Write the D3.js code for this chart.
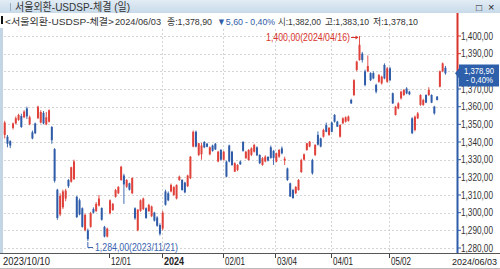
<!DOCTYPE html>
<html>
<head>
<meta charset="utf-8">
<script src="https://cdnjs.cloudflare.com/ajax/libs/d3/7.8.5/d3.min.js"></script>
<style>
    body { margin: 0; background: #fff; }
    svg { display: block; font-family: "Liberation Sans", "Noto Sans CJK KR", sans-serif; }
</style>
</head>
<body>
<div id="chart"></div>
<script>
// trading calendar (Seoul FX market)
var startDate = "2023-10-10", endDate = "2024-06-03";
var holidays = ["2023-12-25", "2023-12-29", "2024-01-01", "2024-02-09", "2024-02-12",
    "2024-03-01", "2024-04-10", "2024-05-01", "2024-05-06", "2024-05-15"];

// daily OHLC
var open = [
    1344, 1343, 1340.5, 1348, 1350.5, 1352.5, 1354.7, 1354, 1359, 1350,
    1345.5, 1350.5, 1353.5, 1351, 1356.5, 1350, 1351.5, 1348.5, 1336, 1313,
    1299, 1303, 1308, 1318.5, 1317.5, 1319, 1309, 1307, 1302.5, 1290,
    1290, 1292, 1302, 1300.8, 1304, 1302.6, 1292, 1286.5, 1299.7, 1301.5,
    1309, 1311, 1318.5, 1321, 1314.7, 1316.6, 1311, 1302.5, 1290, 1301,
    1302, 1302.5, 1300.8, 1298, 1300, 1297.3, 1293, 1291, 1312, 1311,
    1312, 1310, 1308, 1318.5, 1318.5, 1317, 1315, 1319.5, 1337.4, 1345.8,
    1332.7, 1333, 1340, 1339, 1333, 1338, 1339, 1329, 1335.5, 1330,
    1328.9, 1338, 1334.5, 1323.2, 1324.2, 1328.9, 1340, 1330.8, 1329.8, 1332.7,
    1334.5, 1337, 1332.7, 1327, 1329, 1331.5, 1337, 1335, 1328.9, 1331.7,
    1336.4, 1329.5, 1325, 1316.6, 1312.8, 1311, 1312.8, 1323, 1330, 1335.5,
    1337.4, 1329.8, 1332.7, 1344, 1342, 1343, 1349.6, 1344, 1351, 1355.3,
    1351.5, 1343, 1350.6, 1351.5, 1352, 1363.8, 1366.6, 1380.8, 1386.4, 1390,
    1380, 1380, 1379, 1379, 1372.3, 1374.1, 1373.2, 1383.6, 1374.1, 1381.7,
    1367.6, 1355.3, 1359, 1364.7, 1366.6, 1370.3, 1368.5, 1353.4, 1346.8, 1353.4,
    1361, 1361, 1366.6, 1366.6, 1366.6, 1360, 1365.7, 1371.3, 1380, 1382
];
var high = [
    1352, 1344, 1341, 1351, 1354.5, 1356, 1356, 1358, 1360, 1355,
    1346.5, 1351, 1360.5, 1358, 1357.5, 1357, 1358.5, 1349, 1336.5, 1313.5,
    1311, 1313, 1313.5, 1319, 1326, 1330, 1309.5, 1308, 1303, 1299.5,
    1291, 1300.5, 1303, 1306, 1310, 1303, 1292.5, 1291.5, 1307.5, 1305.5,
    1313.5, 1315, 1326.5, 1322, 1319, 1317, 1320, 1303, 1302, 1307.5,
    1308.5, 1303, 1305, 1304, 1300.5, 1298, 1294, 1301, 1313, 1312,
    1316.5, 1315, 1316, 1321, 1319, 1317.5, 1321.5, 1332, 1346.5, 1346.5,
    1339.5, 1339.5, 1340.5, 1339.5, 1337.5, 1338.5, 1339.5, 1335, 1336, 1335,
    1329.5, 1338.5, 1335, 1328.5, 1327.5, 1329.5, 1340.5, 1335, 1336, 1337,
    1339, 1337.5, 1333, 1331.5, 1332.5, 1332, 1338, 1335.5, 1334, 1336,
    1337.5, 1331.7, 1325.5, 1317, 1313.5, 1315, 1319, 1330.5, 1333.5, 1339.5,
    1340.5, 1330.5, 1338.8, 1346, 1342.5, 1347.5, 1351, 1348.5, 1351.5, 1355.8,
    1352, 1350, 1354, 1354.5, 1355, 1364.5, 1375.5, 1386, 1400, 1391,
    1381, 1389, 1379.5, 1380, 1373, 1378.5, 1377.5, 1384.5, 1382.5, 1382.5,
    1368, 1360.5, 1362.5, 1369, 1370, 1371, 1369, 1354, 1355, 1357,
    1367, 1364.5, 1367, 1371, 1367, 1360.5, 1366, 1380.5, 1385, 1383.1
];
var low = [
    1342, 1337, 1336.5, 1347, 1350, 1352, 1348, 1353.5, 1353, 1349.5,
    1341.5, 1344.5, 1353, 1350.5, 1350, 1349.5, 1351, 1339, 1317, 1296,
    1298, 1302, 1306.5, 1314, 1317, 1318.5, 1297, 1298.5, 1291.5, 1289.5,
    1284, 1291.5, 1299.5, 1300.5, 1303.5, 1295.5, 1286, 1286, 1299, 1301,
    1308.5, 1310.5, 1318, 1305, 1314, 1312.5, 1310.5, 1296, 1289.5, 1300.5,
    1301.5, 1296.5, 1300.5, 1297.5, 1295, 1292, 1287, 1290, 1304, 1306.5,
    1311.5, 1309.5, 1307.5, 1318, 1312.5, 1311, 1314.5, 1319, 1337, 1337,
    1332, 1330, 1336.5, 1337, 1332.5, 1334.5, 1335.5, 1328.5, 1329.5, 1329.5,
    1320, 1328.5, 1326.5, 1323, 1323.5, 1327, 1334.5, 1330.5, 1329.5, 1332,
    1334, 1332, 1327.5, 1326.5, 1328.5, 1329, 1330.5, 1327, 1328.5, 1331,
    1333, 1327, 1318, 1309, 1308, 1310.5, 1312.5, 1322.5, 1329.5, 1335,
    1337, 1321.5, 1332, 1338, 1337, 1342.5, 1345.5, 1343.5, 1345.5, 1351,
    1348.5, 1342.5, 1350, 1351, 1351.5, 1361.5, 1366, 1380, 1386, 1385,
    1371.5, 1379.5, 1374.5, 1375.5, 1367.5, 1373.5, 1372.5, 1375.5, 1373.5, 1374.5,
    1361.5, 1355, 1358.5, 1364, 1366, 1367, 1366.5, 1344.5, 1346, 1353,
    1360.5, 1360.5, 1362, 1366, 1362, 1355.5, 1363.5, 1371, 1379.5, 1378.1
];
var close = [
    1351, 1339, 1338, 1350.5, 1353.5, 1355.3, 1348.5, 1357.2, 1354.5, 1354,
    1342, 1345, 1360, 1357, 1350.5, 1354, 1358, 1341, 1318, 1297,
    1309.5, 1312, 1312.5, 1315, 1325.7, 1329, 1297.5, 1299, 1292, 1298.7,
    1285, 1299.7, 1300, 1305, 1308, 1296, 1286.5, 1291, 1307, 1305,
    1312.8, 1314.6, 1326, 1316, 1318.5, 1313, 1319.6, 1296.8, 1301.7, 1307,
    1308, 1297, 1304.4, 1303.5, 1295.5, 1292.6, 1288, 1300, 1304.5, 1307,
    1315.7, 1314.5, 1315.7, 1320.4, 1312.8, 1311.5, 1321, 1331.7, 1345.8, 1337.4,
    1339.3, 1338, 1337, 1337.3, 1337, 1335, 1335.8, 1334.5, 1330, 1334.5,
    1320.4, 1329, 1327, 1328, 1327, 1327.4, 1335, 1334.5, 1335.5, 1336.4,
    1338.3, 1332.5, 1328, 1330.8, 1331.7, 1329.5, 1331, 1331, 1333.6, 1335.5,
    1333.6, 1330.5, 1318.5, 1309.1, 1308.2, 1314.6, 1318.5, 1329.8, 1333, 1339.3,
    1340.2, 1322.3, 1338.3, 1338.5, 1337.4, 1346.8, 1345.8, 1348, 1345.8, 1351.5,
    1348.7, 1349.6, 1353.4, 1354, 1354.4, 1361.9, 1375, 1385.5, 1395, 1386.4,
    1372.3, 1383, 1375, 1376, 1368.5, 1377.9, 1377, 1376, 1381.7, 1375,
    1361.9, 1360, 1361.9, 1368.5, 1369.4, 1367.5, 1367, 1345, 1354.3, 1356.2,
    1366.6, 1363.8, 1362.3, 1369.4, 1362.3, 1356.2, 1363.8, 1380, 1384.5, 1378.9
];

var yTicks = [1280, 1290, 1300, 1310, 1320, 1330, 1340, 1350, 1360, 1370, 1380, 1390, 1400];
var xTickDates = ["2023-12-01", "2024-01-02", "2024-02-01", "2024-03-04", "2024-04-01", "2024-05-02"];
var xTickLabels = ["12/01", "2024", "02/01", "03/04", "04/01", "05/02"];
var xTickWidths = [20, 20, 20, 20, 20, 20];

var title = "서울외환-USDSP-체결 (일)";
var itemName = "<서울외환-USDSP-체결>";

var RED = "#e0413a", BLUE = "#2f5ca8";

// build trading days
var iso = d3.timeFormat("%Y-%m-%d");
var parse = d3.timeParse("%Y-%m-%d");
var dates = d3.timeDay.range(parse(startDate), d3.timeDay.offset(parse(endDate), 1))
    .filter(function (d) { return d.getDay() != 0 && d.getDay() != 6 && holidays.indexOf(iso(d)) < 0; })
    .map(iso);

var data = dates.map(function (d, i) {
    return { date: d, o: open[i], h: high[i], l: low[i], c: close[i] };
});

// comma as decimal mark, like the terminal does
function fmt(v) { return d3.format(",.2f")(v).replace(/\.(\d\d)$/, ",$1"); }

var W = 500, H = 269;
var svg = d3.select("#chart").append("svg")
    .attr("width", W)
    .attr("height", H);

var x = d3.scaleBand()
    .domain(dates)
    .range([2.93, 447.2])
    .padding(0.28);
var y = d3.scaleLinear()
    .domain([1280, 1400])
    .range([248, 36]);
function cx(d) { return x(d) + x.bandwidth() / 2; }

// title bar
var grad = svg.append("defs").append("linearGradient")
    .attr("id", "tb").attr("x1", 0).attr("y1", 0).attr("x2", 0).attr("y2", 1);
grad.append("stop").attr("offset", "0%").attr("stop-color", "#e2ecf5");
grad.append("stop").attr("offset", "100%").attr("stop-color", "#c8dae9");
svg.append("rect").attr("x", 0).attr("y", 0).attr("width", W).attr("height", 13).attr("fill", "url(#tb)");
svg.append("line").attr("x1", 10.5).attr("x2", 10.5).attr("y1", 3).attr("y2", 11)
    .attr("stroke", "#98aec3");
svg.append("text").attr("x", 15).attr("y", 10.5)
    .attr("font-size", 11).attr("fill", "#333")
    .attr("textLength", 115).attr("lengthAdjust", "spacingAndGlyphs")
    .text(title);
svg.append("text").attr("x", 476).attr("y", 10.5).attr("font-size", 10).attr("fill", "#222").text("□");
svg.append("text").attr("x", 488).attr("y", 10.5).attr("font-size", 11).attr("fill", "#222").text("×");

// info line
var last = data[data.length - 1], prev = data[data.length - 2];
var chg = last.c - prev.c;
svg.append("rect").attr("x", 1).attr("y", 16).attr("width", 2).attr("height", 8).attr("fill", "#111");
var info = [
    { t: itemName, x: 5, w: 109, c: "#333" },
    { t: endDate.replace(/-/g, "/"), x: 115, w: 46, c: "#333" },
    { t: "종:" + fmt(last.c), x: 167, w: 45, c: "#333" },
    { t: (chg < 0 ? "▼" : "▲") + fmt(Math.abs(chg)), x: 217, w: 26, c: BLUE },
    { t: "- " + fmt(Math.abs(chg / prev.c * 100)) + "%", x: 245, w: 30, c: BLUE },
    { t: "시:" + fmt(last.o), x: 278, w: 43, c: "#333" },
    { t: "고:" + fmt(last.h), x: 325, w: 44, c: "#333" },
    { t: "저:" + fmt(last.l), x: 373, w: 45, c: "#333" }
];
svg.selectAll("text.info")
    .data(info)
    .enter()
    .append("text")
    .attr("class", "info")
    .attr("x", function (d) { return d.x; })
    .attr("y", 24.5)
    .attr("font-size", 9.5)
    .attr("fill", function (d) { return d.c; })
    .attr("textLength", function (d) { return d.w; })
    .attr("lengthAdjust", "spacingAndGlyphs")
    .text(function (d) { return d.t; });

// left frame strip
svg.append("rect").attr("x", 0).attr("y", 28).attr("width", 3).attr("height", 225).attr("fill", "#c3d4e4");

// horizontal grid
svg.append("g")
    .selectAll("line")
    .data(yTicks)
    .enter()
    .append("line")
    .attr("x1", 4).attr("x2", 456)
    .attr("y1", function (d) { return Math.round(y(d)) + 0.5; })
    .attr("y2", function (d) { return Math.round(y(d)) + 0.5; })
    .attr("stroke", "#d4d4d4")
    .attr("stroke-dasharray", "2,2");

// vertical grid (no line on 12/01 in the original)
svg.append("g")
    .selectAll("line")
    .data(xTickDates.slice(1))
    .enter()
    .append("line")
    .attr("x1", function (d) { return Math.round(cx(d)) - 0.5; })
    .attr("x2", function (d) { return Math.round(cx(d)) - 0.5; })
    .attr("y1", 29).attr("y2", 253)
    .attr("stroke", "#d4d4d4")
    .attr("stroke-dasharray", "2,2");

// candles
var candle = svg.append("g")
    .selectAll("g")
    .data(data)
    .enter()
    .append("g")
    .attr("fill", function (d) { return d.c >= d.o ? RED : BLUE; })
    .attr("stroke", function (d) { return d.c >= d.o ? RED : BLUE; });
candle.append("line")
    .attr("x1", function (d) { return cx(d.date); })
    .attr("x2", function (d) { return cx(d.date); })
    .attr("y1", function (d) { return y(d.h); })
    .attr("y2", function (d) { return y(d.l); })
    .attr("stroke-width", 0.9);
candle.append("rect")
    .attr("stroke", "none")
    .attr("x", function (d) { return x(d.date); })
    .attr("width", x.bandwidth())
    .attr("y", function (d) { return y(Math.max(d.o, d.c)); })
    .attr("height", function (d) { return Math.max(1, Math.abs(y(d.o) - y(d.c))); });

// max / min markers
var iMax = d3.maxIndex(data, function (d) { return d.h; });
var iMin = d3.minIndex(data, function (d) { return d.l; });
var hi = data[iMax], lo = data[iMin];
svg.append("text")
    .attr("x", 350).attr("y", 40.5)
    .attr("text-anchor", "end")
    .attr("font-size", 10)
    .attr("fill", "#d9342b")
    .attr("textLength", 84).attr("lengthAdjust", "spacingAndGlyphs")
    .text(fmt(hi.h) + "(" + hi.date.replace(/-/g, "/") + ")");
svg.append("path")
    .attr("d", "M351," + (y(hi.h) + 1.5) + "H" + (cx(hi.date) - 2.5))
    .attr("stroke", "#d9342b").attr("fill", "none");
svg.append("path")
    .attr("d", "M" + (cx(hi.date) - 1) + "," + (y(hi.h) + 1.5) + "l-3,-2v4z")
    .attr("fill", "#d9342b");

svg.append("path")
    .attr("d", "M" + cx(lo.date) + "," + (y(lo.l) + 1) + "V247.5H93")
    .attr("stroke", "#3a64b0").attr("fill", "none");
svg.append("text")
    .attr("x", 95).attr("y", 250.5)
    .attr("font-size", 10)
    .attr("fill", "#3a64b0")
    .attr("textLength", 83).attr("lengthAdjust", "spacingAndGlyphs")
    .text(fmt(lo.l) + "(" + lo.date.replace(/-/g, "/") + ")");

// right price axis
var yLast = y(last.c);
svg.append("line").attr("x1", 457.5).attr("x2", 457.5).attr("y1", 13).attr("y2", yLast)
    .attr("stroke", "#d9342b").attr("stroke-width", 2);
svg.append("line").attr("x1", 457.5).attr("x2", 457.5).attr("y1", yLast).attr("y2", 253)
    .attr("stroke", BLUE).attr("stroke-width", 2);
var yAxis = svg.append("g").selectAll("g")
    .data(yTicks)
    .enter()
    .append("g")
    .attr("transform", function (d) { return "translate(0," + y(d) + ")"; });
yAxis.append("line")
    .attr("x1", 458).attr("x2", 461)
    .attr("stroke", function (d) { return d > last.c ? "#d9342b" : BLUE; });
// labels under the price tag are hidden, as in the terminal
yAxis.filter(function (d) { return Math.abs(y(d) - yLast) > 12; })
    .append("text")
    .attr("x", 461).attr("y", 3.6)
    .attr("font-size", 10)
    .attr("fill", "#333")
    .attr("textLength", 32).attr("lengthAdjust", "spacingAndGlyphs")
    .text(function (d) { return fmt(d); });

// current price tag
svg.append("path")
    .attr("d", "M455," + yLast + "L459," + (yLast - 5) + "V64.5H499V86.5H459V" + (yLast + 5) + "Z")
    .attr("fill", "#2d5fab");
svg.append("text").attr("x", 464).attr("y", 73.5)
    .attr("font-size", 8.8).attr("fill", "#fff")
    .attr("textLength", 30).attr("lengthAdjust", "spacingAndGlyphs")
    .text(fmt(last.c));
svg.append("text").attr("x", 466).attr("y", 83)
    .attr("font-size", 9).attr("fill", "#fff")
    .attr("textLength", 27).attr("lengthAdjust", "spacingAndGlyphs")
    .text("- " + fmt(Math.abs(chg / prev.c * 100)) + "%");

// x axis row
svg.append("line").attr("x1", 0).attr("x2", W).attr("y1", 253.5).attr("y2", 253.5).attr("stroke", "#555");
svg.append("line").attr("x1", 0).attr("x2", W).attr("y1", 268.5).attr("y2", 268.5).attr("stroke", "#bbb");
var xAxis = svg.append("g").selectAll("g")
    .data(xTickDates)
    .enter()
    .append("g")
    .attr("transform", function (d) { return "translate(" + (Math.round(cx(d)) - 0.5) + ",0)"; });
xAxis.append("line").attr("y1", 254).attr("y2", 258).attr("stroke", "#444");
xAxis.append("text")
    .attr("x", 1.5).attr("y", 264.5)
    .attr("font-size", 10.5)
    .attr("fill", "#222")
    .attr("font-weight", function (d, i) { return xTickLabels[i] == "2024" ? "bold" : null; })
    .attr("textLength", function (d, i) { return xTickWidths[i]; })
    .attr("lengthAdjust", "spacingAndGlyphs")
    .text(function (d, i) { return xTickLabels[i]; });
svg.append("text")
    .attr("x", 3).attr("y", 264.5)
    .attr("font-size", 10.5).attr("fill", "#222")
    .attr("textLength", 47).attr("lengthAdjust", "spacingAndGlyphs")
    .text(dates[0].replace(/-/g, "/"));
svg.append("text")
    .attr("x", 452).attr("y", 264.5)
    .attr("font-size", 9.3).attr("fill", "#222")
    .attr("textLength", 45).attr("lengthAdjust", "spacingAndGlyphs")
    .text(dates[dates.length - 1].replace(/-/g, "/"));
</script>
</body>
</html>
